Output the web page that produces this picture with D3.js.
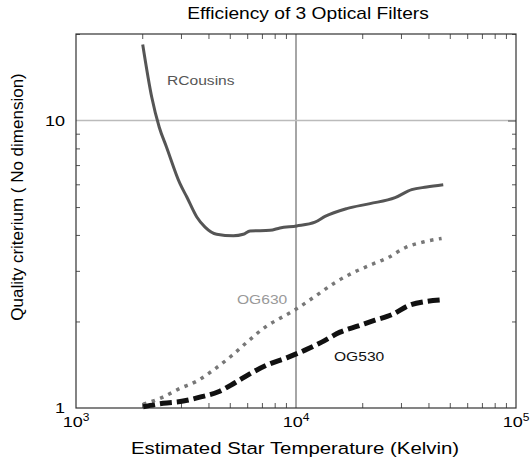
<!DOCTYPE html>
<html>
<head>
<meta charset="utf-8">
<script src="https://cdn.jsdelivr.net/npm/d3@7"></script>
<style>
  body { margin: 0; background: #fff; }
  text { font-family: "Liberation Sans", Arial, Helvetica, sans-serif; }
</style>
</head>
<body>
<div id="chart"></div>
<script>
// Temperature (K) and quality criterium for each filter
const rcousinsT = [2010, 2210, 2390, 2580, 2970, 3190, 3540, 3860, 4360, 5190, 5760, 6180, 7620, 8450, 10070, 12200, 13550, 17000, 21700, 28200, 33550, 39250, 46700];
const rcousinsQ = [18.4, 12.05, 9.48, 8.08, 6.03, 5.42, 4.62, 4.26, 4.02, 3.97, 4.02, 4.13, 4.15, 4.23, 4.30, 4.43, 4.64, 4.94, 5.14, 5.39, 5.75, 5.87, 5.98];

const og630T = [2020, 2450, 2970, 3540, 4210, 5100, 6070, 7300, 8750, 9560, 10500, 12630, 15040, 18230, 21700, 26300, 31300, 37900, 45900];
const og630Q = [1.03, 1.086, 1.17, 1.24, 1.355, 1.52, 1.71, 1.92, 2.08, 2.16, 2.26, 2.49, 2.73, 2.96, 3.14, 3.34, 3.61, 3.78, 3.89];

const og530T = [2020, 2490, 3070, 3730, 4440, 5280, 6290, 7490, 9070, 10990, 13090, 15850, 19200, 22860, 27220, 32970, 39250, 45900];
const og530Q = [1.01, 1.038, 1.057, 1.095, 1.139, 1.224, 1.326, 1.418, 1.495, 1.59, 1.695, 1.836, 1.93, 2.02, 2.11, 2.28, 2.35, 2.38];

const xMajor = [1e3, 1e4, 1e5];
const xMajorExp = ["3", "4", "5"];
const xMinor = [2e3, 3e3, 4e3, 5e3, 6e3, 7e3, 8e3, 9e3, 2e4, 3e4, 4e4, 5e4, 6e4, 7e4, 8e4, 9e4];
const yMajor = [1, 10];
const yMinor = [2, 3, 4, 5, 6, 7, 8, 9, 20];

let width = 530, height = 468;
let margin = { top: 34, right: 14, bottom: 60, left: 76 };

let svg = d3.select("#chart").append("svg")
    .attr("width", width)
    .attr("height", height);

let x = d3.scaleLog().domain([1e3, 1e5]).range([margin.left, width - margin.right]);
let y = d3.scaleLog().domain([1, 20]).range([height - margin.bottom, margin.top]);

const sx = 1.2; // the reference text is drawn wider than normal

function hText(px, py, str, size, anchor, color) {
    return svg.append("text")
        .attr("transform", `translate(${px},${py}) scale(${sx},1)`)
        .attr("text-anchor", anchor)
        .attr("font-size", size)
        .attr("fill", color || "#000")
        .text(str);
}

// grid lines at 10^4 and 10
svg.append("line")
    .attr("x1", x(1e4)).attr("x2", x(1e4))
    .attr("y1", y(20)).attr("y2", y(1))
    .attr("stroke", "#888").attr("stroke-width", 1.5);
svg.append("line")
    .attr("x1", x(1e3)).attr("x2", x(1e5))
    .attr("y1", y(10)).attr("y2", y(10))
    .attr("stroke", "#bbb").attr("stroke-width", 1.5);

// ticks on all four sides, pointing inwards
function ticks(axis, vals, size, transform) {
    let g = svg.append("g")
        .attr("transform", transform)
        .call(axis.tickValues(vals).tickSize(size).tickFormat(""));
    g.select(".domain").remove();
    g.selectAll(".tick line").attr("stroke", "#555");
}
ticks(d3.axisBottom(x), xMinor, -5, `translate(0,${y(1)})`);
ticks(d3.axisTop(x), xMinor, -5, `translate(0,${y(20)})`);
ticks(d3.axisLeft(y), yMinor, -4, `translate(${x(1e3)},0)`);
ticks(d3.axisRight(y), yMinor, -4, `translate(${x(1e5)},0)`);
ticks(d3.axisRight(y), [10], -8, `translate(${x(1e5)},0)`);

// frame
svg.append("rect")
    .attr("x", x(1e3)).attr("y", y(20))
    .attr("width", x(1e5) - x(1e3)).attr("height", y(1) - y(20))
    .attr("fill", "none").attr("stroke", "#333").attr("stroke-width", 1.2);

// x tick labels 10^n
xMajor.forEach((v, i) => {
    let t = hText(x(v), y(1) + 19, "", 15, "middle");
    t.append("tspan").text("10");
    t.append("tspan").attr("font-size", 10).attr("dy", -6).text(xMajorExp[i]);
});

// y tick labels
yMajor.forEach(v => {
    hText(x(1e3) - 11, y(v) + 5, String(v), 15, "end");
});

// series
let line = d3.line().curve(d3.curveMonotoneX)
    .x(d => x(d[0]))
    .y(d => y(d[1]));

svg.append("path")
    .datum(d3.zip(rcousinsT, rcousinsQ))
    .attr("fill", "none").attr("stroke", "#555").attr("stroke-width", 3)
    .attr("stroke-linejoin", "round")
    .attr("d", line);

svg.append("path")
    .datum(d3.zip(og630T, og630Q))
    .attr("fill", "none").attr("stroke", "#777").attr("stroke-width", 3.5)
    .attr("stroke-dasharray", "3.5,5.5")
    .attr("d", line);

svg.append("path")
    .datum(d3.zip(og530T, og530Q))
    .attr("fill", "none").attr("stroke", "#111").attr("stroke-width", 5)
    .attr("stroke-dasharray", "12,5")
    .attr("d", line);

// series labels
hText(167, 85, "RCousins", 13, "start", "#555");
hText(237, 304, "OG630", 13, "start", "#999");
hText(334, 361, "OG530", 13, "start", "#111");

// titles
hText(308, 19, "Efficiency of 3 Optical Filters", 16, "middle");
hText(295, 454, "Estimated Star Temperature (Kelvin)", 17, "middle");
svg.append("text")
    .attr("transform", `translate(23,197) rotate(-90)`)
    .attr("text-anchor", "middle")
    .attr("font-size", 17)
    .text("Quality criterium ( No dimension)");
</script>
</body>
</html>
